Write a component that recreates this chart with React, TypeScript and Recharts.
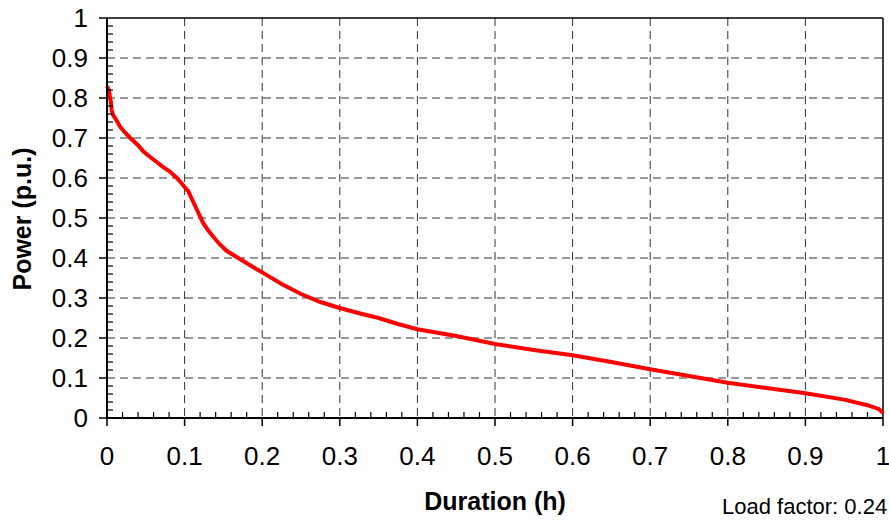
import React from "react";
import { LineChart, Line, XAxis, YAxis, CartesianGrid, ReferenceLine } from "recharts";

const durations = [0, 0.0025, 0.004, 0.005, 0.006, 0.008, 0.012, 0.017, 0.024, 0.03, 0.04, 0.047, 0.056, 0.064, 0.072, 0.081, 0.09, 0.096, 0.105, 0.11, 0.116, 0.124, 0.13, 0.137, 0.145, 0.154, 0.165, 0.176, 0.193, 0.2, 0.225, 0.25, 0.275, 0.3, 0.325, 0.35, 0.375, 0.4, 0.45, 0.5, 0.55, 0.6, 0.65, 0.7, 0.75, 0.8, 0.85, 0.9, 0.95, 0.98, 0.995, 1.0];
const powers = [0.83, 0.82, 0.8, 0.79, 0.77, 0.757, 0.745, 0.728, 0.712, 0.7, 0.682, 0.666, 0.652, 0.64, 0.628, 0.616, 0.6, 0.587, 0.566, 0.545, 0.52, 0.487, 0.47, 0.453, 0.435, 0.418, 0.405, 0.392, 0.372, 0.364, 0.335, 0.31, 0.29, 0.275, 0.262, 0.25, 0.235, 0.222, 0.205, 0.185, 0.17, 0.157, 0.14, 0.122, 0.105, 0.088, 0.075, 0.062, 0.046, 0.032, 0.022, 0.012];

const majorTicks = [0, 0.1, 0.2, 0.3, 0.4, 0.5, 0.6, 0.7, 0.8, 0.9, 1];
const majorLabels = ["0", "0.1", "0.2", "0.3", "0.4", "0.5", "0.6", "0.7", "0.8", "0.9", "1"];
const gridValues = [0.1, 0.2, 0.3, 0.4, 0.5, 0.6, 0.7, 0.8, 0.9];
const minorTicks = Array.from({ length: 51 }, (_, i) => i / 50);

const xTitle = "Duration (h)";
const yTitle = "Power (p.u.)";
const note = "Load factor: 0.24";

const data = durations.map((d, i) => ({ d, p: powers[i] }));

const FONT = "'Liberation Sans', Arial, sans-serif";

const labelFor = (v: number) => {
  const idx = majorTicks.findIndex((m) => Math.abs(m - v) < 1e-6);
  return idx >= 0 ? majorLabels[idx] : null;
};

const XTick = (props: any) => {
  const { x, y, payload } = props;
  const lab = labelFor(payload.value);
  if (lab !== null) {
    return (
      <g>
        <line x1={x} x2={x} y1={y} y2={y + 8} stroke="#000" strokeWidth={1.5} />
        <text x={x} y={y + 47} textAnchor="middle" fontFamily={FONT} fontSize={26} fill="#000">{lab}</text>
      </g>
    );
  }
  return <line x1={x} x2={x} y1={y} y2={y - 6} stroke="#000" strokeWidth={1.2} />;
};

const YTick = (props: any) => {
  const { x, y, payload } = props;
  const lab = labelFor(payload.value);
  if (lab !== null) {
    return (
      <g>
        <line x1={x} x2={x - 8} y1={y} y2={y} stroke="#000" strokeWidth={1.5} />
        <text x={x - 19} y={y} dy="0.36em" textAnchor="end" fontFamily={FONT} fontSize={26} fill="#000">{lab}</text>
      </g>
    );
  }
  return <line x1={x} x2={x + 6} y1={y} y2={y} stroke="#000" strokeWidth={1.2} />;
};

export default function App() {
  return (
    <div style={{ position: "absolute", left: 0, top: 0, width: 889, height: 521, background: "#fff" }}>
      <LineChart width={889} height={521} data={data} margin={{ top: 18, right: 6, bottom: 0, left: 0 }}>
        <CartesianGrid
          stroke="#333"
          strokeDasharray="8 5"
          strokeWidth={1}
          horizontalValues={gridValues}
          verticalValues={gridValues}
        />
        <XAxis
          dataKey="d"
          type="number"
          domain={[0, 1]}
          ticks={minorTicks}
          interval={0}
          height={103}
          tickSize={0}
          tickMargin={0}
          tickLine={false}
          axisLine={{ stroke: "#000", strokeWidth: 2 }}
          tick={<XTick />}
        />
        <YAxis
          type="number"
          domain={[0, 1]}
          ticks={minorTicks}
          interval={0}
          width={107}
          tickSize={0}
          tickMargin={0}
          tickLine={false}
          axisLine={{ stroke: "#000", strokeWidth: 2 }}
          tick={<YTick />}
        />
        <ReferenceLine y={1} stroke="#000" strokeWidth={1.5} />
        <ReferenceLine x={1} stroke="#000" strokeWidth={1.5} />
        <Line
          type="linear"
          dataKey="p"
          stroke="#ff0000"
          strokeWidth={4}
          dot={false}
          isAnimationActive={false}
        />
        <text x={495} y={510} textAnchor="middle" fontFamily={FONT} fontWeight="bold" fontSize={25} fill="#000">{xTitle}</text>
        <text x={722} y={514} textAnchor="start" fontFamily={FONT} fontSize={22} fill="#000">{note}</text>
        <text x={0} y={0} transform="translate(31,219) rotate(-90)" textAnchor="middle" fontFamily={FONT} fontWeight="bold" fontSize={25} fill="#000">{yTitle}</text>
      </LineChart>
    </div>
  );
}
